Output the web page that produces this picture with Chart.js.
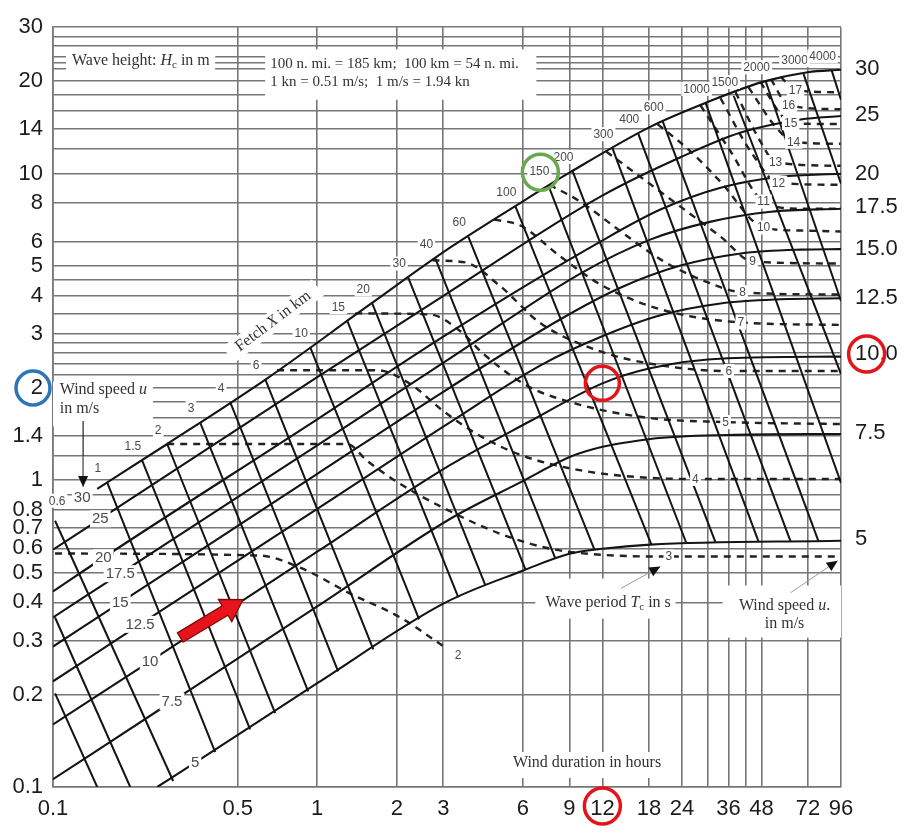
<!DOCTYPE html>
<html>
<head>
<meta charset="utf-8">
<title>Wave height nomogram</title>
<script src="https://cdn.jsdelivr.net/npm/chart.js@4.4.0/dist/chart.umd.min.js"></script>
<style>
  html, body { margin: 0; padding: 0; background: #fff; }
</style>
</head>
<body>
<canvas id="nomogram" width="911" height="837"></canvas>
<script>
// Axes: wind duration (hours) across, wave height Hc (m) up, both logarithmic
const durationGrid = [0.1, 0.5, 1, 2, 3, 6, 9, 12, 18, 24, 30, 36, 42, 48, 72, 96];
const durationLabels = [0.1, 0.5, 1, 2, 3, 6, 9, 12, 18, 24, 36, 48, 72, 96];
const heightGrid = [0.1, 0.2, 0.3, 0.4, 0.5, 0.6, 0.7, 0.8, 0.9, 1, 1.2, 1.4, 1.6, 1.8, 2, 2.2, 2.4, 2.6, 2.8, 3,
  3.5, 4, 4.5, 5, 6, 8, 10, 12, 14, 16, 18, 20, 22, 23, 24, 26, 28, 30];
const heightLabels = [0.1, 0.2, 0.3, 0.4, 0.5, 0.6, 0.7, 0.8, 1, 1.4, 2, 3, 4, 5, 6, 8, 10, 14, 20, 30];

// Wind speed curves, u in m/s; points are [duration h, height m]
const windSpeeds = ['5', '7.5', '10', '12.5', '15', '17.5', '20', '25', '30'];
const windRightLabels = ['5', '7.5', '10.0', '12.5', '15.0', '17.5', '20', '25', '30'];
const windFullHeight = [0.645, 1.426, 2.58, 3.92, 5.69, 7.8, 9.98, 15.5, 21.9];
const windLines = [
  [[0.248, 0.1], [0.345, 0.120], [1, 0.218], [3.05, 0.399], [6.03, 0.508], [9.0, 0.576], [12.0, 0.598], [18.2, 0.617], [96, 0.635]],
  [[0.1, 0.106], [0.282, 0.190], [1, 0.388], [3.19, 0.749], [5.72, 0.973], [9.65, 1.218], [18.2, 1.363], [35.8, 1.405], [96, 1.415]],
  [[0.1, 0.160], [0.233, 0.257], [1, 0.585], [3.19, 1.122], [6.41, 1.56], [12.0, 2.07], [18.2, 2.32], [35.8, 2.50], [96, 2.53]],
  [[0.1, 0.221], [0.2136, 0.339], [1, 0.807], [3.19, 1.548], [7.0, 2.37], [11.8, 2.93], [19.9, 3.45], [33.6, 3.77], [56.7, 3.89], [96, 3.92]],
  [[0.1, 0.287], [0.1797, 0.399], [1, 1.049], [3.19, 2.01], [8.33, 3.35], [14.1, 4.25], [23.7, 5.01], [40.1, 5.49], [67.6, 5.65], [96, 5.67]],
  [[0.1, 0.357], [0.1797, 0.496], [1, 1.30], [3.19, 2.50], [9.9, 4.72], [18.2, 6.09], [30.9, 6.97], [52.1, 7.51], [96, 7.68]],
  [[0.1, 0.434], [0.155, 0.559], [1, 1.58], [3.19, 3.04], [11.8, 6.00], [19.9, 7.63], [33.6, 8.99], [56.7, 9.76], [96, 9.98]],
  [[0.1, 0.594], [0.151, 0.749], [1, 2.17], [3.19, 4.13], [11.8, 8.41], [23.7, 11.3], [40.1, 13.6], [67.6, 15.0], [96, 15.4]],
  [[0.147, 0.938], [0.2705, 1.313], [0.647, 2.15], [1.588, 3.75], [3.19, 5.74], [5.98, 8.10], [9.07, 10.1], [18.2, 14.2], [30.0, 17.1], [48.5, 19.9], [71.8, 21.4], [96, 21.8]]
];
const windLabelAt = [1, 1, 1, 1, 1, 1, 1, 1, 0];

// Fetch lines, X in km: start on the 30 m/s curve, end on the 5 m/s curve or the right edge
const fetchKm = ['0.6', '1', '1.5', '2', '3', '4', '6', '10', '15', '20', '30', '40', '60', '100', '150', '200',
  '300', '400', '600', '1000', '1500', '2000', '3000', '4000'];
const fetchLines = [
  [[0.1018, 0.738], [0.285, 0.1046]],
  [[0.160, 0.988], [0.411, 0.130]],
  [[0.217, 1.165], [0.557, 0.154]],
  [[0.2705, 1.313], [0.693, 0.174]],
  [[0.360, 1.548], [0.924, 0.205]],
  [[0.468, 1.80], [1.20, 0.238]],
  [[0.635, 2.14], [1.63, 0.281]],
  [[0.941, 2.71], [2.43, 0.352]],
  [[1.30, 3.30], [3.42, 0.415]],
  [[1.615, 3.77], [4.33, 0.454]],
  [[2.21, 4.58], [6.14, 0.511]],
  [[2.80, 5.28], [7.97, 0.555]],
  [[3.73, 6.23], [11.2, 0.594]],
  [[5.62, 7.83], [18.4, 0.617]],
  [[7.50, 9.13], [25.0, 0.621]],
  [[9.25, 10.2], [32.2, 0.626]],
  [[13.1, 12.1], [46.8, 0.631]],
  [[16.4, 13.5], [61.9, 0.631]],
  [[20.3, 14.8], [79.0, 0.631]],
  [[29.5, 17.0], [96, 0.98]],
  [[37.7, 17.9], [96, 2.22]],
  [[49.8, 20.0], [96, 3.84]],
  [[69.3, 21.1], [96, 9.26]],
  [[88.5, 21.7], [96, 17.4]]
];
// shorter fetches in the lower-left corner (unlabelled)
const shortFetchLines = [
  [[0.1018, 0.357], [0.196, 0.1]],
  [[0.1018, 0.202], [0.147, 0.1]]
];

// Wave period curves, Tc in s (dashed)
const periods = ['2', '3', '4', '5', '6', '7', '8', '9', '10', '11', '12', '13', '14', '15', '16', '17'];
const periodLines = [
  [[0.1018, 0.577], [0.608, 0.568], [0.862, 0.519], [1.334, 0.427], [2.062, 0.357], [3.05, 0.285]],
  [[0.2705, 1.313], [1.299, 1.313], [1.546, 1.157], [2.062, 0.973], [3.0, 0.813], [4.93, 0.669], [7.63, 0.598], [11.8, 0.572], [21.4, 0.564], [95.7, 0.564]],
  [[0.705, 2.285], [1.688, 2.285], [2.251, 2.06], [3.0, 1.681], [4.14, 1.394], [6.03, 1.20], [10.2, 1.073], [18.2, 1.018], [27.0, 1.01], [95.7, 1.01]],
  [[1.393, 3.50], [2.68, 3.47], [3.48, 3.06], [4.26, 2.58], [6.25, 2.03], [9.65, 1.772], [18.2, 1.595], [35.1, 1.548], [95.7, 1.525]],
  [[2.73, 5.21], [3.64, 5.13], [4.93, 4.29], [7.0, 3.25], [11.8, 2.63], [19.9, 2.37], [36.1, 2.27], [95.7, 2.27]],
  [[4.68, 7.08], [5.87, 6.77], [8.33, 5.36], [11.8, 4.35], [19.9, 3.61], [40.1, 3.27], [95.7, 3.21]],
  [[7.56, 9.19], [9.9, 8.10], [14.1, 6.47], [19.9, 5.25], [28.2, 4.52], [40.7, 4.10], [95.7, 4.03]],
  [[12.4, 11.8], [16.7, 9.76], [23.7, 7.80], [33.6, 6.23], [44.4, 5.17], [95.7, 5.09]],
  [[19.4, 14.5], [25.9, 11.8], [33.6, 9.40], [48.9, 6.67], [67.6, 6.52], [95.7, 6.47]],
  [[28.2, 16.7], [36.7, 11.8], [48.9, 8.1], [67.6, 7.68], [95.7, 7.68]],
  [[33.6, 17.6], [43.7, 11.8], [55.7, 9.33], [95.7, 9.19]],
  [[38.3, 18.4], [47.6, 12.7], [54.3, 10.9], [95.7, 10.6]],
  [[42.9, 19.1], [54.3, 14.2], [63.5, 12.7], [95.7, 12.5]],
  [[47.6, 19.9], [56.7, 15.6], [61.9, 14.6], [95.7, 14.5]],
  [[52.1, 20.3], [60.8, 16.7], [95.7, 16.2]],
  [[56.7, 20.7], [64.6, 18.7], [95.7, 18.4]]
];
const periodLabelAt = [5, 8, 8, 7, 6, 5, 5, 4, 3, 2, 2, 2, 2, 2, 1, 1];

const INK = '#141414';
const GRID = '#767676';
const SANS = '"Liberation Sans", Arial, sans-serif';
const SERIF = '"Liberation Serif", "Times New Roman", serif';

const pts = line => line.map(([x, y]) => ({ x, y }));
const datasets = [];
windLines.forEach((line, i) => datasets.push({
  label: 'u ' + windSpeeds[i], data: pts(line), showLine: true, pointRadius: 0,
  borderColor: INK, borderWidth: 2.1, cubicInterpolationMode: 'monotone'
}));
fetchLines.concat(shortFetchLines).forEach((line, i) => datasets.push({
  label: 'X ' + (fetchKm[i] || ''), data: pts(line), showLine: true, pointRadius: 0,
  borderColor: INK, borderWidth: 2
}));
periodLines.forEach((line, i) => datasets.push({
  label: 'T ' + periods[i], data: pts(line), showLine: true, pointRadius: 0,
  borderColor: '#222', borderWidth: 2.4, borderDash: [7, 6], cubicInterpolationMode: 'monotone'
}));

// rich text: parts are [text, style] with style '', 'i' (italic) or 'sub'
function rich(ctx, parts, x, y, size, align) {
  const font = s => (s === 'i' ? 'italic ' : '') + (s === 'sub' ? Math.round(size * 0.68) : size) + 'px ' + SERIF;
  let w = 0;
  parts.forEach(([t, s]) => { ctx.font = font(s); w += ctx.measureText(t).width; });
  let cx = align === 'center' ? x - w / 2 : x;
  ctx.textAlign = 'left';
  ctx.textBaseline = 'middle';
  parts.forEach(([t, s]) => {
    ctx.font = font(s);
    ctx.fillText(t, cx, s === 'sub' ? y + size * 0.28 : y);
    cx += ctx.measureText(t).width;
  });
  return w;
}

function tag(ctx, text, x, y, size) {
  ctx.font = size + 'px ' + SANS;
  const w = ctx.measureText(text).width;
  ctx.fillStyle = '#fff';
  ctx.fillRect(x - w / 2 - 2, y - size / 2 - 1, w + 4, size + 2);
  ctx.fillStyle = '#4a4a4a';
  ctx.textAlign = 'center';
  ctx.textBaseline = 'middle';
  ctx.fillText(text, x, y + 0.5);
}

function pointer(ctx, x0, y0, x1, y1) {
  ctx.strokeStyle = '#9a9a9a';
  ctx.lineWidth = 1;
  ctx.beginPath(); ctx.moveTo(x0, y0); ctx.lineTo(x1, y1); ctx.stroke();
  const a = Math.atan2(y1 - y0, x1 - x0);
  ctx.fillStyle = '#111';
  ctx.beginPath();
  ctx.moveTo(x1, y1);
  ctx.lineTo(x1 - 11 * Math.cos(a) + 5 * Math.sin(a), y1 - 11 * Math.sin(a) - 5 * Math.cos(a));
  ctx.lineTo(x1 - 11 * Math.cos(a) - 5 * Math.sin(a), y1 - 11 * Math.sin(a) + 5 * Math.cos(a));
  ctx.closePath(); ctx.fill();
}

const notes = {
  id: 'notes',
  beforeDatasetsDraw(chart) {
    const { ctx, scales: { x, y } } = chart;
    const X = v => x.getPixelForValue(v), Y = v => y.getPixelForValue(v);
    const blank = (t0, h0, t1, h1) => ctx.fillRect(X(t0), Y(h0), X(t1) - X(t0), Y(h1) - Y(h0));
    ctx.save();
    ctx.fillStyle = '#fff';
    blank(0.112, 25.4, 0.411, 21.7);
    blank(0.635, 25.4, 6.75, 17.4);
    blank(0.1, 2.10, 0.239, 1.50);
    blank(6.69, 0.478, 22.7, 0.354);
    blank(34.2, 0.454, 96, 0.307);
    blank(5.15, 0.130, 21.4, 0.107);

    ctx.fillStyle = '#333';
    rich(ctx, [['Wave height: '], ['H', 'i'], ['c', 'sub'], [' in m']], X(0.118), Y(23.4), 16);
    rich(ctx, [['100 n. mi. = 185 km;  100 km = 54 n. mi.']], X(0.664), Y(22.8), 15);
    rich(ctx, [['1 kn = 0.51 m/s;  1 m/s = 1.94 kn']], X(0.664), Y(19.9), 15);
    rich(ctx, [['Wind speed '], ['u', 'i']], X(0.106), Y(1.97), 16);
    rich(ctx, [['in m/s']], X(0.106), Y(1.71), 16);
    rich(ctx, [['Wave period '], ['T', 'i'], ['c', 'sub'], [' in s']], X(7.31), Y(0.40), 16);
    rich(ctx, [['Wind speed '], ['u', 'i'], ['.']], X(58.7), Y(0.391), 16, 'center');
    rich(ctx, [['in m/s']], X(58.7), Y(0.341), 16, 'center');
    rich(ctx, [['Wind duration in hours']], X(10.5), Y(0.120), 16, 'center');

    // rotated fetch caption
    ctx.save();
    ctx.translate(X(0.681), Y(3.30));
    ctx.rotate(-37 * Math.PI / 180);
    ctx.fillStyle = '#fff';
    ctx.fillRect(-56, -10, 112, 20);
    ctx.fillStyle = '#333';
    rich(ctx, [['Fetch '], ['X', 'i'], [' in km']], 0, 0, 16, 'center');
    ctx.restore();
    ctx.restore();
  },
  afterDatasetsDraw(chart) {
    const { ctx, scales: { x, y } } = chart;
    const X = v => x.getPixelForValue(v), Y = v => y.getPixelForValue(v);
    ctx.save();
    windLines.forEach((line, i) => {
      const p = line[windLabelAt[i]];
      const off = i === windLines.length - 1 ? [-15, 9] : [0, 0];
      tag(ctx, windSpeeds[i], X(p[0]) + off[0], Y(p[1]) + off[1], 15);
    });
    fetchLines.forEach((line, i) => {
      const off = i === 0 ? [2, -20] : [-9, -14];
      tag(ctx, fetchKm[i], X(line[0][0]) + off[0], Y(line[0][1]) + off[1], 12);
    });
    periodLines.forEach((line, i) => {
      const p = line[periodLabelAt[i]];
      const off = i === 0 ? [13, 8] : [0, 0];
      tag(ctx, periods[i], X(p[0]) + off[0], Y(p[1]) + off[1], 12);
    });
    // pointers from the captions
    ctx.strokeStyle = '#222';
    ctx.lineWidth = 1.2;
    ctx.beginPath(); ctx.moveTo(X(0.13), Y(1.56)); ctx.lineTo(X(0.13), Y(0.97)); ctx.stroke();
    pointer(ctx, X(0.13), Y(1.2), X(0.13), Y(0.95));
    pointer(ctx, X(14.1), Y(0.444), X(19.9), Y(0.523));
    pointer(ctx, X(61.9), Y(0.43), X(93.3), Y(0.547));
    ctx.restore();
  },
  afterDraw(chart) {
    const { ctx, scales: { x, y } } = chart;
    const X = v => x.getPixelForValue(v), Y = v => y.getPixelForValue(v);
    ctx.save();
    const rings = [
      [12, 2.07, 17, '#e3151b'], [12, 0.0867, 18, '#e3151b'], [120, 2.58, 18, '#e3151b'],
      [6.99, 10.1, 18, '#6aa84f'], [0.084, 2.0, 17, '#2e75b6']
    ];
    rings.forEach(([t, h, r, c]) => {
      ctx.strokeStyle = c; ctx.lineWidth = 3.5;
      ctx.beginPath(); ctx.arc(X(t), Y(h), r, 0, Math.PI * 2); ctx.stroke();
    });
    // red block arrow
    const x0 = X(0.303), y0 = Y(0.307), x1 = X(0.524), y1 = Y(0.408);
    const a = Math.atan2(y1 - y0, x1 - x0), L = Math.hypot(x1 - x0, y1 - y0);
    ctx.translate(x0, y0); ctx.rotate(a);
    ctx.beginPath();
    ctx.moveTo(0, -5.5); ctx.lineTo(L - 21, -5.5); ctx.lineTo(L - 21, -13); ctx.lineTo(L, 0);
    ctx.lineTo(L - 21, 13); ctx.lineTo(L - 21, 5.5); ctx.lineTo(0, 5.5); ctx.closePath();
    ctx.fillStyle = '#e8141c'; ctx.fill();
    ctx.strokeStyle = '#7a0a0a'; ctx.lineWidth = 1.2; ctx.stroke();
    ctx.restore();
  }
};

new Chart(document.getElementById('nomogram'), {
  type: 'scatter',
  data: { datasets },
  options: {
    responsive: false,
    animation: false,
    devicePixelRatio: 1,
    layout: { padding: { top: 25, left: 0, right: 0, bottom: 0 } },
    plugins: { legend: { display: false }, tooltip: { enabled: false } },
    scales: {
      x: {
        type: 'logarithmic', position: 'bottom', min: 0.1, max: 96,
        afterBuildTicks: ax => { ax.ticks = durationGrid.map(v => ({ value: v })); },
        afterFit: ax => { ax.height = 50; },
        grid: { color: GRID, lineWidth: 1.6, drawTicks: false },
        border: { color: GRID, width: 1.6 },
        ticks: {
          autoSkip: false, maxRotation: 0, padding: 9, color: '#1c1c1c',
          font: { family: 'Liberation Sans', size: 22 },
          callback: v => durationLabels.includes(v) ? String(v) : ''
        }
      },
      y: {
        type: 'logarithmic', position: 'left', min: 0.1, max: 30,
        afterBuildTicks: ax => { ax.ticks = heightGrid.map(v => ({ value: v })); },
        afterFit: ax => { ax.width = 53; },
        grid: { color: GRID, lineWidth: 1.6, drawTicks: false },
        border: { color: GRID, width: 1.6 },
        ticks: {
          autoSkip: false, padding: 10, color: '#1c1c1c',
          font: { family: 'Liberation Sans', size: 22 },
          callback: v => heightLabels.includes(v) ? String(v) : ''
        }
      },
      y2: {
        type: 'logarithmic', position: 'right', min: 0.1, max: 30,
        afterBuildTicks: ax => { ax.ticks = windFullHeight.map(v => ({ value: v })); },
        afterFit: ax => { ax.width = 70; },
        grid: { display: false, drawTicks: false },
        border: { display: false },
        ticks: {
          autoSkip: false, padding: 14, color: '#1c1c1c',
          font: { family: 'Liberation Sans', size: 22 },
          callback: (v, i) => windRightLabels[i]
        }
      }
    }
  },
  plugins: [notes]
});
</script>
</body>
</html>
